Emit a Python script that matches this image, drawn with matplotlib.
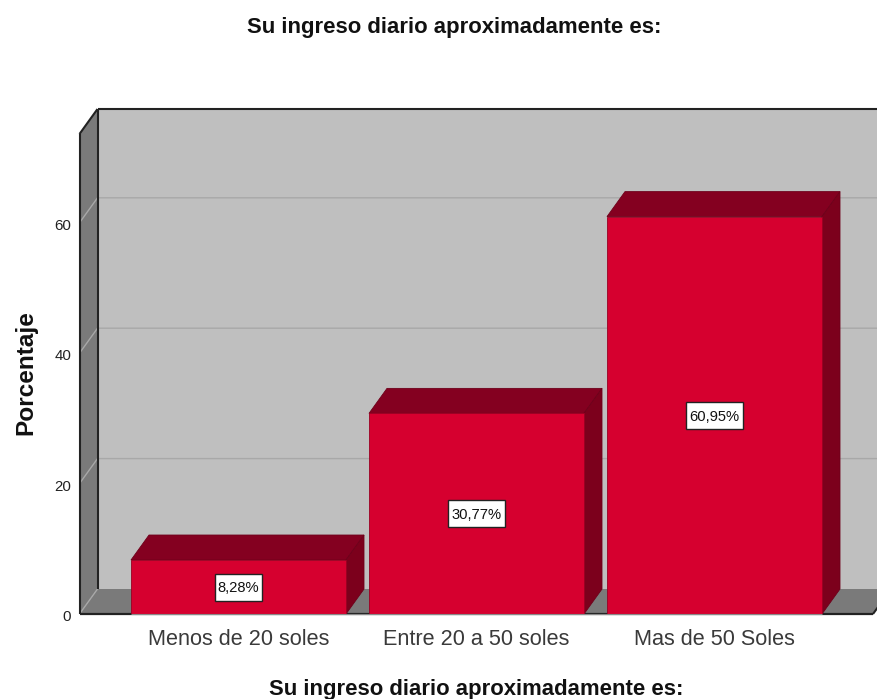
import matplotlib
matplotlib.use("Agg")
import matplotlib.pyplot as plt
from matplotlib.patches import Polygon, Rectangle
from matplotlib.transforms import ScaledTranslation

plt.rcParams['font.family'] = ['Liberation Sans', 'DejaVu Sans']

categories = ["Menos de 20 soles", "Entre 20 a 50 soles", "Mas de 50 Soles"]
percentages = [8.28, 30.77, 60.95]
value_labels = ["8,28%", "30,77%", "60,95%"]
y_ticks = [0, 20, 40, 60]
title_text = "Su ingreso diario aproximadamente es:"
y_title = "Porcentaje"

W, H = 878, 699
L, R, T, B = 79.5, 873.0, 134.0, 614.0
PX_X, PX_Y = 238.0, 6.52
fig = plt.figure(figsize=(W / 100, H / 100), dpi=100, facecolor="white")
ax = fig.add_axes([L / W, (H - B) / H, (R - L) / W, (B - T) / H])
x0 = (L - 238.5) / PX_X
x1 = (R - 238.5) / PX_X
y1 = (B - T) / PX_Y
ax.set_xlim(x0, x1)
ax.set_ylim(0, y1)
ax.set_facecolor("none")
for s in ax.spines.values():
    s.set_visible(False)

dx, dy = 18 / PX_X, 25 / PX_Y
WALL, SHADE, EDGE, GRID = "#BFBFBF", "#7A7A7A", "#222222", "#A8A8A8"
FRONT, TOP, SIDE = "#D6002F", "#840020", "#7C001C"


def poly(pts, fc, ec="none", lw=0.0, z=1):
    ax.add_patch(Polygon(pts, closed=True, fc=fc, ec=ec, lw=lw, zorder=z, clip_on=False))


def line(xs, ys, c=EDGE, lw=1.5, z=2):
    ax.plot(xs, ys, color=c, lw=lw, zorder=z, clip_on=False, solid_capstyle="butt")


# back wall, side wall and floor
poly([(x0 + dx, dy), (x1 + dx, dy), (x1 + dx, y1 + dy), (x0 + dx, y1 + dy)], WALL)
poly([(x0, 0), (x0 + dx, dy), (x0 + dx, y1 + dy), (x0, y1)], SHADE)
poly([(x0, 0), (x1, 0), (x1 + dx, dy), (x0 + dx, dy)], SHADE)

# gridlines
for t in y_ticks[1:]:
    line([x0, x0 + dx, x1 + dx], [t, t + dy, t + dy], c=GRID, lw=1.0)
line([x0, x0 + dx], [0, dy], c=GRID, lw=1.0)

# frame
line([x0, x0], [0, y1])
line([x0, x0 + dx], [y1, y1 + dy])
line([x0 + dx, x0 + dx], [dy, y1 + dy])
line([x0 + dx, x1 + dx], [y1 + dy, y1 + dy])
line([x0, x1], [0, 0], lw=1.6)
line([x1, x1 + dx], [0, dy], lw=1.5)

# bars
bar_w = 215 / PX_X
idx = list(range(len(categories)))
for i, v in zip(idx, percentages):
    a, b = i - bar_w / 2, i + bar_w / 2
    poly([(a, v), (b, v), (b + dx, v + dy), (a + dx, v + dy)], TOP, ec="#6E001A", lw=0.6, z=3)
    poly([(b, 0), (b + dx, dy), (b + dx, v + dy), (b, v)], SIDE, ec="#6E001A", lw=0.6, z=3)
ax.bar(idx, percentages, width=bar_w, color=FRONT, edgecolor="#9A0022", linewidth=0.6, zorder=4)
line([idx[0] - bar_w / 2, idx[-1] + bar_w / 2], [0, 0], c="#8A8A8A", lw=0.8, z=5)

renderer = fig.canvas.get_renderer()
for i, v, s in zip(idx, percentages, value_labels):
    t = ax.annotate(s, (i, v / 2), xytext=(0, -1.0), textcoords="offset points", ha="center",
                    va="center", fontsize=10.6, color="#111111", zorder=7)
    w = (t.get_window_extent(renderer).width + 6) / PX_X
    h = 27 / PX_Y
    ax.add_patch(Rectangle((i - w / 2, v / 2 - h / 2), w, h, fc="white", ec="#222222", lw=1.0, zorder=6))

# axes text
ax.set_xticks(idx)
ax.set_xticklabels(categories, fontsize=15.6, color="#3A3A3A")
ax.tick_params(axis="x", length=0, pad=10.5)
ax.set_yticks(y_ticks)
ax.set_yticklabels([str(t) for t in y_ticks], fontsize=10.8, color="#222222")
ax.tick_params(axis="y", length=0, pad=6)
shift = ScaledTranslation(0, -1.5 / 100, fig.dpi_scale_trans)
for lab in ax.get_yticklabels():
    lab.set_transform(lab.get_transform() + shift)

fig.text(454 / W, 1 - 28 / H, title_text, ha="center", va="center", fontsize=15.9,
         fontweight="bold", color="#111111")
fig.text(476 / W, 1 - 690 / H, title_text, ha="center", va="center", fontsize=15.9,
         fontweight="bold", color="#111111")
fig.text(26 / W, 1 - 373 / H, y_title, ha="center", va="center", rotation=90, fontsize=17.6,
         fontweight="bold", color="#111111")

fig.savefig("out.png", dpi=100, facecolor="white")
